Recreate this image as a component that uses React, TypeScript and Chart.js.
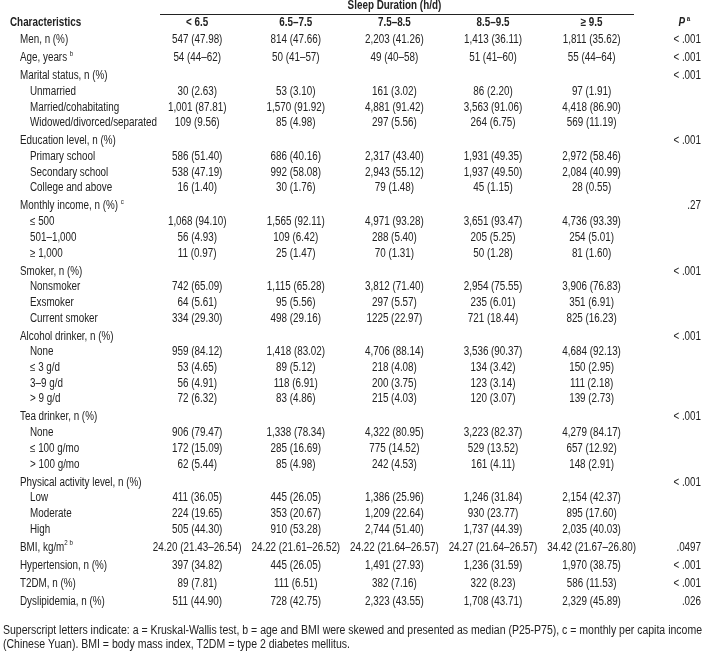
import React, { useEffect, useRef } from "react";
import { Chart, registerables } from "chart.js";

Chart.register(...registerables);

// ---------- data ----------
const spanTitle = "Sleep Duration (h/d)";
const headerLabel = "Characteristics";
const colHeaders = ["< 6.5", "6.5–7.5", "7.5–8.5", "8.5–9.5", "≥ 9.5"];
const pHeader = "P";
const pHeaderSup = "a";

const rowLabels = [
  "Men, n (%)",
  "Age, years ^b",
  "Marital status, n (%)",
  "Unmarried",
  "Married/cohabitating",
  "Widowed/divorced/separated",
  "Education level, n (%)",
  "Primary school",
  "Secondary school",
  "College and above",
  "Monthly income, n (%) ^c",
  "≤ 500",
  "501–1,000",
  "≥ 1,000",
  "Smoker, n (%)",
  "Nonsmoker",
  "Exsmoker",
  "Current smoker",
  "Alcohol drinker, n (%)",
  "None",
  "≤ 3 g/d",
  "3–9 g/d",
  "> 9 g/d",
  "Tea drinker, n (%)",
  "None",
  "≤ 100 g/mo",
  "> 100 g/mo",
  "Physical activity level, n (%)",
  "Low",
  "Moderate",
  "High",
  "BMI, kg/m^2 b",
  "Hypertension, n (%)",
  "T2DM, n (%)",
  "Dyslipidemia, n (%)",
];

const rowLevels = [
  0, 0, 0, 1, 1, 1, 0, 1, 1, 1, 0, 1, 1, 1, 0, 1, 1, 1, 0, 1, 1, 1, 1, 0, 1, 1, 1, 0, 1, 1, 1, 0, 0, 0, 0,
];

const sleepLt65 = [
  "547 (47.98)", "54 (44–62)", "", "30 (2.63)", "1,001 (87.81)", "109 (9.56)", "",
  "586 (51.40)", "538 (47.19)", "16 (1.40)", "", "1,068 (94.10)", "56 (4.93)", "11 (0.97)", "",
  "742 (65.09)", "64 (5.61)", "334 (29.30)", "", "959 (84.12)", "53 (4.65)", "56 (4.91)", "72 (6.32)", "",
  "906 (79.47)", "172 (15.09)", "62 (5.44)", "", "411 (36.05)", "224 (19.65)", "505 (44.30)",
  "24.20 (21.43–26.54)", "397 (34.82)", "89 (7.81)", "511 (44.90)",
];
const sleep65to75 = [
  "814 (47.66)", "50 (41–57)", "", "53 (3.10)", "1,570 (91.92)", "85 (4.98)", "",
  "686 (40.16)", "992 (58.08)", "30 (1.76)", "", "1,565 (92.11)", "109 (6.42)", "25 (1.47)", "",
  "1,115 (65.28)", "95 (5.56)", "498 (29.16)", "", "1,418 (83.02)", "89 (5.12)", "118 (6.91)", "83 (4.86)", "",
  "1,338 (78.34)", "285 (16.69)", "85 (4.98)", "", "445 (26.05)", "353 (20.67)", "910 (53.28)",
  "24.22 (21.61–26.52)", "445 (26.05)", "111 (6.51)", "728 (42.75)",
];
const sleep75to85 = [
  "2,203 (41.26)", "49 (40–58)", "", "161 (3.02)", "4,881 (91.42)", "297 (5.56)", "",
  "2,317 (43.40)", "2,943 (55.12)", "79 (1.48)", "", "4,971 (93.28)", "288 (5.40)", "70 (1.31)", "",
  "3,812 (71.40)", "297 (5.57)", "1225 (22.97)", "", "4,706 (88.14)", "218 (4.08)", "200 (3.75)", "215 (4.03)", "",
  "4,322 (80.95)", "775 (14.52)", "242 (4.53)", "", "1,386 (25.96)", "1,209 (22.64)", "2,744 (51.40)",
  "24.22 (21.64–26.57)", "1,491 (27.93)", "382 (7.16)", "2,323 (43.55)",
];
const sleep85to95 = [
  "1,413 (36.11)", "51 (41–60)", "", "86 (2.20)", "3,563 (91.06)", "264 (6.75)", "",
  "1,931 (49.35)", "1,937 (49.50)", "45 (1.15)", "", "3,651 (93.47)", "205 (5.25)", "50 (1.28)", "",
  "2,954 (75.55)", "235 (6.01)", "721 (18.44)", "", "3,536 (90.37)", "134 (3.42)", "123 (3.14)", "120 (3.07)", "",
  "3,223 (82.37)", "529 (13.52)", "161 (4.11)", "", "1,246 (31.84)", "930 (23.77)", "1,737 (44.39)",
  "24.27 (21.64–26.57)", "1,236 (31.59)", "322 (8.23)", "1,708 (43.71)",
];
const sleepGe95 = [
  "1,811 (35.62)", "55 (44–64)", "", "97 (1.91)", "4,418 (86.90)", "569 (11.19)", "",
  "2,972 (58.46)", "2,084 (40.99)", "28 (0.55)", "", "4,736 (93.39)", "254 (5.01)", "81 (1.60)", "",
  "3,906 (76.83)", "351 (6.91)", "825 (16.23)", "", "4,684 (92.13)", "150 (2.95)", "111 (2.18)", "139 (2.73)", "",
  "4,279 (84.17)", "657 (12.92)", "148 (2.91)", "", "2,154 (42.37)", "895 (17.60)", "2,035 (40.03)",
  "34.42 (21.67–26.80)", "1,970 (38.75)", "586 (11.53)", "2,329 (45.89)",
];
const pValues = [
  "< .001", "< .001", "< .001", "", "", "", "< .001", "", "", "", ".27", "", "", "",
  "< .001", "", "", "", "< .001", "", "", "", "", "< .001", "", "", "",
  "< .001", "", "", "", ".0497", "< .001", "< .001", ".026",
];

const footnoteLines = [
  "Superscript letters indicate: a = Kruskal-Wallis test, b = age and BMI were skewed and presented as median (P25-P75), c = monthly per capita income",
  "(Chinese Yuan). BMI = body mass index, T2DM = type 2 diabetes mellitus.",
];

// ---------- layout ----------
const W = 704;
const H = 658;
const COL_UNIT = 98.6; // px per column on x scale
const ROW_UNIT = 15.7; // px per sub-row step on y scale
const TOP_STEP = 1.146; // step before a top-level row, in row units
const Y_MIN = -1.548;
const FAMILY = '"Liberation Sans Narrow", "Arial Narrow", "Liberation Sans", Arial, sans-serif';
const INK = "#222222";

const valueColumns = [sleepLt65, sleep65to75, sleep75to85, sleep85to95, sleepGe95];

function rowPositions(): number[] {
  let v = 1;
  return rowLevels.map((lv, i) => {
    if (i > 0) v += lv === 0 ? TOP_STEP : 1;
    return v;
  });
}

type Seg = { t: string; sup: boolean };
function parseRich(s: string): Seg[] {
  return s.split("^").map((t, i) => ({ t, sup: i % 2 === 1 })).filter((s) => s.t.length > 0);
}

const tablePlugin = {
  id: "tableText",
  afterDraw(chart: any) {
    const { ctx } = chart;
    const xs = chart.scales.x;
    const ys = chart.scales.y;
    const left = chart.chartArea.left;
    const rows = rowPositions();

    ctx.save();
    ctx.font = `12px ${FAMILY}`;
    const probe = ctx.measureText("Widowed/divorced/separated").width;
    const baseSx = probe > 140 ? 127 / probe : 1;

    const fontFor = (size: number, bold: boolean, italic: boolean) =>
      `${italic ? "italic " : ""}${bold ? "bold " : ""}${size}px ${FAMILY}`;

    const drawRich = (
      segs: Seg[],
      x: number,
      y: number,
      align: "left" | "center" | "right",
      bold = false,
      italic = false,
      sx = baseSx
    ) => {
      const size = 12;
      const supSize = 7.5;
      const widths = segs.map((s) => {
        ctx.font = fontFor(s.sup ? supSize : size, bold, italic && !s.sup);
        return ctx.measureText(s.t).width * sx;
      });
      const total = widths.reduce((a, b) => a + b, 0);
      let cx = align === "left" ? x : align === "center" ? x - total / 2 : x - total;
      segs.forEach((s, i) => {
        ctx.font = fontFor(s.sup ? supSize : size, bold, italic && !s.sup);
        ctx.save();
        ctx.translate(cx, s.sup ? y - 4 : y);
        ctx.scale(sx, 1);
        ctx.textAlign = "left";
        ctx.textBaseline = "middle";
        ctx.fillStyle = INK;
        ctx.fillText(s.t, 0, 0);
        ctx.restore();
        cx += widths[i];
      });
    };
    const plain = (t: string): Seg[] => [{ t, sup: false }];

    // spanning title + rule
    const titleY = ys.getPixelForValue(-1.198);
    drawRich(plain(spanTitle), xs.getPixelForValue(4), titleY, "center", true);
    const ruleY = Math.round(ys.getPixelForValue(-0.688)) + 0.5;
    ctx.beginPath();
    ctx.moveTo(xs.getPixelForValue(1.623), ruleY);
    ctx.lineTo(xs.getPixelForValue(6.43), ruleY);
    ctx.strokeStyle = INK;
    ctx.lineWidth = 1;
    ctx.stroke();

    // header row
    const headY = ys.getPixelForValue(-0.083);
    drawRich(plain(headerLabel), left + 10, headY, "left", true);
    colHeaders.forEach((h, c) => drawRich(plain(h), xs.getPixelForValue(c + 2), headY, "center", true));
    drawRich(
      [
        { t: pHeader, sup: false },
        { t: " " + pHeaderSup, sup: true },
      ],
      xs.getPixelForValue(7.0),
      headY,
      "right",
      true,
      true
    );

    // body rows
    rows.forEach((rv, i) => {
      const py = ys.getPixelForValue(rv);
      drawRich(parseRich(rowLabels[i]), left + (rowLevels[i] === 0 ? 20 : 30), py, "left");
      valueColumns.forEach((col, c) => {
        if (col[i]) drawRich(plain(col[i]), xs.getPixelForValue(c + 2), py, "center");
      });
      if (pValues[i]) drawRich(plain(pValues[i]), xs.getPixelForValue(7.11), py, "right");
    });

    // footnote: first line spans the full table width
    ctx.font = fontFor(12, false, false);
    const fw = ctx.measureText(footnoteLines[0]).width;
    const fsx = (chart.chartArea.right - left - 5) / fw;
    footnoteLines.forEach((line, k) => {
      const py = ys.getPixelForValue(38.64 + k * 0.9);
      drawRich(plain(line), left + 3, py, "left", false, false, fsx);
    });
    ctx.restore();
  },
};

export default function App() {
  const canvasRef = useRef<HTMLCanvasElement | null>(null);

  useEffect(() => {
    const canvas = canvasRef.current;
    if (!canvas) return;
    const rows = rowPositions();
    const chart = new Chart(canvas, {
      type: "scatter",
      data: {
        datasets: [
          {
            label: "rows",
            data: rows.map((v) => ({ x: 0, y: v })),
            pointRadius: 0,
            showLine: false,
          },
        ],
      },
      options: {
        animation: false,
        responsive: false,
        devicePixelRatio: 1,
        events: [],
        layout: { padding: 0 },
        plugins: { legend: { display: false }, tooltip: { enabled: false }, title: { display: false } },
        scales: {
          x: { type: "linear", display: false, min: 0, max: W / COL_UNIT },
          y: { type: "linear", display: false, reverse: true, min: Y_MIN, max: Y_MIN + H / ROW_UNIT },
        },
      },
      plugins: [tablePlugin],
    });
    return () => chart.destroy();
  }, []);

  return (
    <div style={{ position: "absolute", left: 0, top: 0, width: W, height: H, background: "#fff" }}>
      <canvas ref={canvasRef} width={W} height={H} style={{ display: "block" }} />
    </div>
  );
}
